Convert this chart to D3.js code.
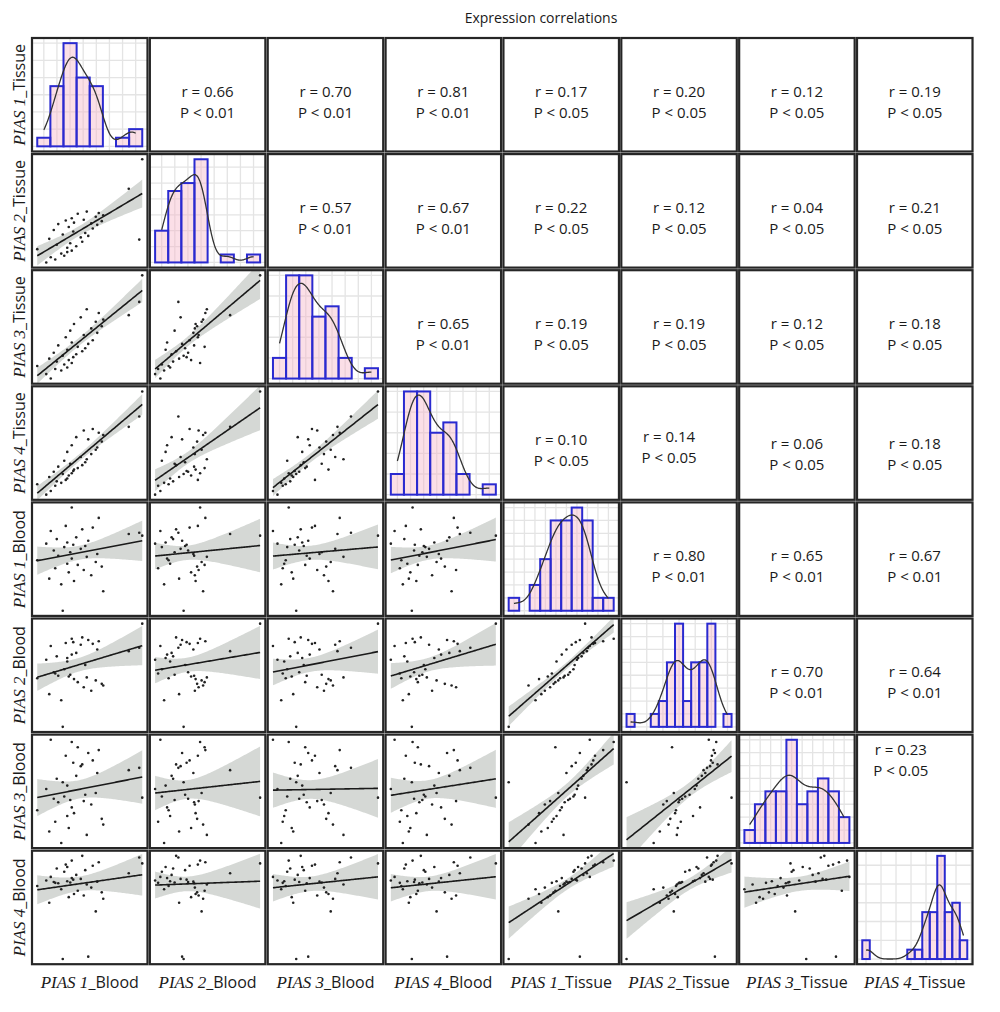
<!DOCTYPE html>
<html>
<head>
<meta charset="utf-8">
<script src="https://cdn.jsdelivr.net/npm/d3@7"></script>
<style>
  body { margin: 0; background: #fff; }
  svg text { font-family: "Open Sans", sans-serif; fill: #1a1a1a; }
</style>
</head>
<body>
<div id="chart"></div>
<script>
// relative expression, one value per sample (same sample order in every array)
var pias1Tissue = [0.0, 0.6, 0.8, 0.9, 1.1, 1.2, 1.3, 1.4, 1.6, 1.7, 1.8, 1.9, 2.0, 2.0, 2.1, 2.2, 2.3, 2.3, 2.4, 2.45,
  2.6, 2.7, 2.9, 3.0, 3.1, 3.2, 3.3, 3.4, 3.6, 3.7, 3.9, 4.0, 4.1, 4.3, 4.4, 6.1, 6.8, 7.0];
var pias2Tissue = [0.9, 0.0, 1.6, 0.35, 2.2, 0.2, 1.2, 2.6, 0.6, 1.9, 0.45, 2.85, 1.0, 0.7, 2.4, 1.3, 3.0, 0.8, 2.1, 2.7,
  1.1, 3.3, 1.7, 1.4, 2.9, 2.0, 3.45, 1.8, 2.65, 2.3, 3.1, 2.55, 3.35, 2.8, 3.2, 5.0, 1.55, 7.0];
var pias3Tissue = [0.85, 0.3, 1.35, 0.0, 1.75, 0.65, 1.15, 2.25, 0.55, 1.55, 0.95, 2.8, 0.75, 1.95, 1.25, 3.25, 1.05, 2.45, 1.45, 3.7,
  1.65, 2.15, 4.15, 1.85, 2.95, 2.05, 4.7, 2.35, 3.4, 2.6, 3.85, 3.1, 4.45, 3.55, 4.0, 4.3, 5.2, 7.0];
var pias4Tissue = [0.7, 0.0, 1.2, 0.25, 1.55, 0.6, 0.9, 1.9, 0.8, 1.4, 2.3, 1.0, 1.1, 2.9, 1.3, 2.1, 1.45, 3.35, 1.6, 1.7,
  3.9, 1.8, 2.55, 2.0, 4.35, 2.2, 2.4, 3.75, 2.75, 4.45, 3.05, 3.2, 4.2, 3.6, 4.05, 4.6, 5.3, 7.0];
var pias1Blood = [4.4, 5.85, 2.8, 6.95, 5.25, 3.7, 6.25, 4.8, 2.3, 0.0, 5.55, 7.4, 4.1, 5.95, 3.35, 5.1, 9.0, 4.55, 5.75, 2.6,
  6.4, 4.0, 5.4, 7.1, 3.55, 5.65, 4.7, 6.1, 3.1, 7.25, 4.25, 4.95, 8.1, 3.85, 1.7, 6.7, 6.8, 6.55];
var pias2Blood = [5.65, 7.8, 3.8, 9.4, 6.35, 6.2, 8.2, 5.95, 3.1, 0.0, 6.7, 9.75, 7.6, 8.0, 5.85, 6.05, 10.25, 8.4, 9.85, 5.55,
  8.6, 5.2, 9.55, 10.4, 4.6, 7.2, 5.75, 10.1, 4.2, 9.65, 5.4, 9.0, 9.95, 5.0, 4.8, 8.8, 9.2, 12.0];
var pias3Blood = [2.85, 4.7, 1.0, 9.0, 3.85, 1.85, 5.6, 3.55, 0.0, 5.3, 4.05, 7.6, 2.35, 5.0, 1.3, 3.75, 8.8, 3.1, 7.0, 2.6,
  5.85, 8.35, 6.7, 6.85, 3.65, 4.2, 0.7, 7.85, 3.35, 7.2, 4.35, 6.1, 8.1, 2.1, 1.6, 6.35, 6.55, 3.95];
var pias4Blood = [9.2, 9.9, 7.1, 10.35, 9.7, 9.6, 11.4, 9.55, 8.8, 0.0, 11.0, 11.9, 9.8, 11.6, 7.8, 9.65, 12.4, 10.2, 10.0, 8.2,
  10.6, 8.6, 10.1, 13.0, 8.0, 11.2, 9.4, 0.3, 9.0, 11.75, 6.0, 9.75, 12.2, 8.4, 7.6, 10.8, 12.8, 12.05];

// number of histogram bins on the diagonal, per variable
var histBins = [8, 8, 8, 8, 10, 13, 10, 14];

var rowLabels = [["PIAS 1", "_Tissue"], ["PIAS 2", "_Tissue"], ["PIAS 3", "_Tissue"], ["PIAS 4", "_Tissue"],
  ["PIAS 1", "_Blood"], ["PIAS 2", "_Blood"], ["PIAS 3", "_Blood"], ["PIAS 4", "_Blood"]];
var colLabels = [["PIAS 1", "_Blood"], ["PIAS 2", "_Blood"], ["PIAS 3", "_Blood"], ["PIAS 4", "_Blood"],
  ["PIAS 1", "_Tissue"], ["PIAS 2", "_Tissue"], ["PIAS 3", "_Tissue"], ["PIAS 4", "_Tissue"]];

// upper triangle annotations
var corrR = [
  [null, "0.66", "0.70", "0.81", "0.17", "0.20", "0.12", "0.19"],
  [null, null, "0.57", "0.67", "0.22", "0.12", "0.04", "0.21"],
  [null, null, null, "0.65", "0.19", "0.19", "0.12", "0.18"],
  [null, null, null, null, "0.10", "0.14", "0.06", "0.18"],
  [null, null, null, null, null, "0.80", "0.65", "0.67"],
  [null, null, null, null, null, null, "0.70", "0.64"],
  [null, null, null, null, null, null, null, "0.23"]
];
var corrP = [
  [null, "0.01", "0.01", "0.01", "0.05", "0.05", "0.05", "0.05"],
  [null, null, "0.01", "0.01", "0.05", "0.05", "0.05", "0.05"],
  [null, null, null, "0.01", "0.05", "0.05", "0.05", "0.05"],
  [null, null, null, null, "0.05", "0.05", "0.05", "0.05"],
  [null, null, null, null, null, "0.01", "0.01", "0.01"],
  [null, null, null, null, null, null, "0.01", "0.01"],
  [null, null, null, null, null, null, null, "0.05"]
];

var vars = [pias1Tissue, pias2Tissue, pias3Tissue, pias4Tissue, pias1Blood, pias2Blood, pias3Blood, pias4Blood];

var width = 1000, height = 1012;
var gridLeft = 32, gridTop = 38, stepX = 117.86, stepY = 116.1, cellW = 115.5, cellH = 113.5;
// a few annotations sit off-centre in the original
var textNudge = { "3-5": [-10, -3], "3-6": [0, 4], "3-7": [0, 4], "6-7": [-14, -38] };

var svg = d3.select("#chart").append("svg")
  .attr("width", width)
  .attr("height", height);

var defs = svg.append("defs");

svg.append("text")
  .attr("x", 541)
  .attr("y", 23)
  .attr("text-anchor", "middle")
  .style("font-size", "14px")
  .text("Expression correlations");

function expand(ext) {
  var d = (ext[1] - ext[0]) * 0.05;
  return [ext[0] - d, ext[1] + d];
}

function drawHist(g, vals, nb) {
  var ext = d3.extent(vals),
    bw = (ext[1] - ext[0]) / (nb - 1),
    lo = ext[0] - bw / 2,
    hi = ext[1] + bw / 2;

  var bins = d3.bin()
    .domain([lo, hi])
    .thresholds(d3.range(1, nb).map(function (k) { return lo + k * bw; }))(vals);

  // gaussian kernel density, bw.nrd0 bandwidth, scaled to counts
  var n = vals.length,
    sorted = vals.slice().sort(d3.ascending),
    iqr = d3.quantile(sorted, 0.75) - d3.quantile(sorted, 0.25),
    h = 0.9 * Math.min(d3.deviation(vals), iqr / 1.34) * Math.pow(n, -0.2);
  var dens = d3.range(0, 201).map(function (k) {
    var v = ext[0] + (ext[1] - ext[0]) * k / 200;
    var s = d3.sum(vals, function (xi) { var u = (v - xi) / h; return Math.exp(-0.5 * u * u); });
    return { x: v, y: s / (n * h * Math.sqrt(2 * Math.PI)) * n * bw };
  });

  var ymax = Math.max(d3.max(bins, function (b) { return b.length; }), d3.max(dens, function (d) { return d.y; }));
  var x = d3.scaleLinear().domain(expand([lo, hi])).range([0, cellW]);
  var y = d3.scaleLinear().domain([-0.05 * ymax, ymax * 1.05]).range([cellH, 0]);

  g.append("rect").attr("width", cellW).attr("height", cellH).style("fill", "#fff");

  g.selectAll("line.gx")
    .data(x.ticks(8))
    .enter().append("line")
    .attr("x1", function (d) { return x(d); })
    .attr("x2", function (d) { return x(d); })
    .attr("y1", 0).attr("y2", cellH)
    .style("stroke", "#e4e4e4").style("stroke-width", 1.3);
  g.selectAll("line.gy")
    .data(y.ticks(7))
    .enter().append("line")
    .attr("y1", function (d) { return y(d); })
    .attr("y2", function (d) { return y(d); })
    .attr("x1", 0).attr("x2", cellW)
    .style("stroke", "#e4e4e4").style("stroke-width", 1.3);

  g.selectAll("rect.bar")
    .data(bins)
    .enter().append("rect")
    .attr("class", "bar")
    .attr("x", function (d) { return x(d.x0); })
    .attr("width", function (d) { return x(d.x1) - x(d.x0); })
    .attr("y", function (d) { return y(d.length); })
    .attr("height", function (d) { return y(0) - y(d.length); })
    .style("fill", "rgba(246,178,198,0.42)")
    .style("stroke", "#2a2ad0")
    .style("stroke-width", 2);

  g.append("path")
    .datum(dens)
    .attr("d", d3.line().curve(d3.curveBasis)
      .x(function (d) { return x(d.x); })
      .y(function (d) { return y(d.y); }))
    .style("fill", "none")
    .style("stroke", "#333")
    .style("stroke-width", 1.3);
}

function drawScatter(g, xs, ys) {
  var xe = d3.extent(xs);
  var x = d3.scaleLinear().domain(expand(xe)).range([0, cellW]);
  var y = d3.scaleLinear().domain(expand(d3.extent(ys))).range([cellH, 0]);

  // least squares fit with 95% confidence band
  var n = xs.length, mx = d3.mean(xs), my = d3.mean(ys);
  var sxx = d3.sum(xs, function (v) { return (v - mx) * (v - mx); });
  var sxy = d3.sum(xs, function (v, k) { return (v - mx) * (ys[k] - my); });
  var b = sxy / sxx, a = my - b * mx;
  var sse = d3.sum(xs, function (v, k) { var e = ys[k] - a - b * v; return e * e; });
  var s = Math.sqrt(sse / (n - 2)), tq = 2.028;
  var fit = d3.range(0, 81).map(function (k) {
    var v = xe[0] + (xe[1] - xe[0]) * k / 80,
      f = a + b * v,
      se = s * Math.sqrt(1 / n + (v - mx) * (v - mx) / sxx);
    return { x: v, f: f, lo: f - tq * se, hi: f + tq * se };
  });

  g.append("path")
    .datum(fit)
    .attr("d", d3.area()
      .x(function (d) { return x(d.x); })
      .y0(function (d) { return y(d.lo); })
      .y1(function (d) { return y(d.hi); }))
    .style("fill", "#d5d8d5");

  g.selectAll("circle")
    .data(xs)
    .enter().append("circle")
    .attr("cx", function (d) { return x(d); })
    .attr("cy", function (d, k) { return y(ys[k]); })
    .attr("r", 1.3)
    .style("fill", "#222");

  g.append("path")
    .datum(fit)
    .attr("d", d3.line()
      .x(function (d) { return x(d.x); })
      .y(function (d) { return y(d.f); }))
    .style("fill", "none")
    .style("stroke", "#1a1a1a")
    .style("stroke-width", 1.6);
}

function drawCorr(g, i, j) {
  var nudge = textNudge[i + "-" + j] || [0, 0];
  var cx = cellW / 2 + nudge[0], cy = cellH / 2 + nudge[1];
  var t = g.append("text")
    .attr("text-anchor", "middle")
    .style("font-size", "15px");
  t.append("tspan").attr("x", cx).attr("y", cy + 2).text("r = " + corrR[i][j]);
  t.append("tspan").attr("x", cx).attr("y", cy + 23).text("P < " + corrP[i][j]);
}

vars.forEach(function (rowVar, i) {
  vars.forEach(function (colVar, j) {
    var x0 = gridLeft + j * stepX, y0 = gridTop + i * stepY;
    var g = svg.append("g").attr("transform", "translate(" + x0 + "," + y0 + ")");
    var clipId = "clip-" + i + "-" + j;
    defs.append("clipPath").attr("id", clipId)
      .append("rect").attr("width", cellW).attr("height", cellH);
    var inner = g.append("g").attr("clip-path", "url(#" + clipId + ")");

    if (i === j) drawHist(inner, rowVar, histBins[i]);
    else if (i > j) drawScatter(inner, colVar, rowVar);
    else drawCorr(inner, i, j);

    g.append("rect")
      .attr("width", cellW)
      .attr("height", cellH)
      .style("fill", "none")
      .style("stroke", "#262626")
      .style("stroke-width", 2.2);
  });
});

// row labels (rotated)
rowLabels.forEach(function (lab, i) {
  var cy = gridTop + i * stepY + cellH / 2, cx = 25;
  var t = svg.append("text")
    .attr("transform", "translate(" + cx + "," + cy + ") rotate(-90)")
    .attr("text-anchor", "middle");
  t.append("tspan").style("font-family", "'Liberation Serif', serif").style("font-style", "italic")
    .style("font-size", "17px").text(lab[0]);
  t.append("tspan").style("font-size", "16px").text(lab[1]);
});

// column labels
colLabels.forEach(function (lab, j) {
  var cx = gridLeft + j * stepX + cellW / 2;
  var t = svg.append("text")
    .attr("x", cx)
    .attr("y", 988)
    .attr("text-anchor", "middle");
  t.append("tspan").style("font-family", "'Liberation Serif', serif").style("font-style", "italic")
    .style("font-size", "17px").text(lab[0]);
  t.append("tspan").style("font-size", "16px").text(lab[1]);
});
</script>
</body>
</html>
